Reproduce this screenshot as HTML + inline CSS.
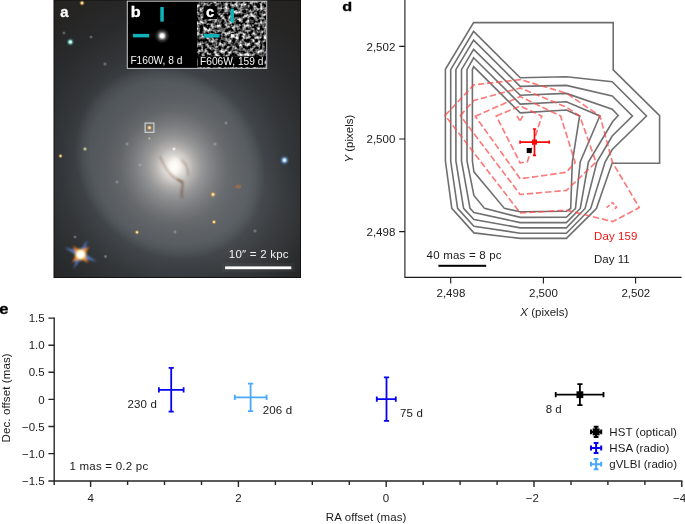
<!DOCTYPE html>
<html>
<head>
<meta charset="utf-8">
<title>Figure</title>
<style>
html,body{margin:0;padding:0;background:#fff;}
body{width:685px;height:524px;overflow:hidden;font-family:"Liberation Sans",sans-serif;}
svg{display:block;position:absolute;left:0;top:0;opacity:.999;}
text{font-family:"Liberation Sans",sans-serif;}
.t{font-size:11.5px;fill:#1a1a1a;}
.b{font-size:14px;font-weight:bold;fill:#000;stroke:#000;stroke-width:.3;}
.gc{fill:none;stroke:#6f6f6f;stroke-width:1.6;stroke-linejoin:miter;}
.rc{fill:none;stroke:#fa4b4b;stroke-opacity:.74;stroke-width:1.65;stroke-dasharray:6.4 2.8;stroke-linejoin:round;}
.ax{stroke:#1a1a1a;stroke-width:1.1;fill:none;}
.e{stroke:#262626;stroke-width:1.4;}
</style>
</head>
<body>
<svg width="685" height="524" viewBox="0 0 685 524">
<defs>
  <clipPath id="imgclip"><rect x="54" y="0" width="246.5" height="277.5"/></clipPath>
  <radialGradient id="gal" cx="0" cy="0" r="1" gradientUnits="userSpaceOnUse" gradientTransform="translate(174.2 166.7) rotate(-15) scale(196 204)">
    <stop offset="0" stop-color="#ffffff"/>
    <stop offset="0.025" stop-color="#f8f6f4"/>
    <stop offset="0.05" stop-color="#e0dcd8"/>
    <stop offset="0.1" stop-color="#b2b0ae"/>
    <stop offset="0.14" stop-color="#969697"/>
    <stop offset="0.18" stop-color="#838486"/>
    <stop offset="0.22" stop-color="#727476"/>
    <stop offset="0.275" stop-color="#5f6265"/>
    <stop offset="0.33" stop-color="#53565a"/>
    <stop offset="0.39" stop-color="#494e52"/>
    <stop offset="0.45" stop-color="#41464a"/>
    <stop offset="0.5" stop-color="#3c3f43"/>
    <stop offset="0.575" stop-color="#34373a"/>
    <stop offset="0.65" stop-color="#2f3133"/>
    <stop offset="0.75" stop-color="#292a2c"/>
    <stop offset="0.9" stop-color="#262524"/>
    <stop offset="1" stop-color="#242322"/>
  </radialGradient>
  <radialGradient id="disk" cx="0" cy="0" r="1" gradientUnits="userSpaceOnUse" gradientTransform="translate(170 163) rotate(48) scale(102 89)">
    <stop offset="0" stop-color="#ccd2d6" stop-opacity="0"/>
    <stop offset="0.4" stop-color="#ccd2d6" stop-opacity=".025"/>
    <stop offset="0.6" stop-color="#ccd2d6" stop-opacity=".06"/>
    <stop offset="0.75" stop-color="#ccd2d6" stop-opacity=".09"/>
    <stop offset="0.84" stop-color="#ccd2d6" stop-opacity=".105"/>
    <stop offset="0.92" stop-color="#ccd2d6" stop-opacity=".07"/>
    <stop offset="1" stop-color="#ccd2d6" stop-opacity="0"/>
  </radialGradient>
  <radialGradient id="lr" cx="250" cy="222" r="70" gradientUnits="userSpaceOnUse">
    <stop offset="0" stop-color="#c8ccd0" stop-opacity=".06"/>
    <stop offset="0.5" stop-color="#c8ccd0" stop-opacity=".04"/>
    <stop offset="1" stop-color="#c8ccd0" stop-opacity="0"/>
  </radialGradient>
  <radialGradient id="core" cx="0" cy="0" r="1" gradientUnits="userSpaceOnUse" gradientTransform="translate(174.2 166.7) rotate(55) scale(15 8)">
    <stop offset="0" stop-color="#fff" stop-opacity=".9"/>
    <stop offset="0.4" stop-color="#fffaf0" stop-opacity=".5"/>
    <stop offset="1" stop-color="#f0e8dc" stop-opacity="0"/>
  </radialGradient>
  <radialGradient id="sW"><stop offset="0" stop-color="#fff"/><stop offset=".35" stop-color="#fff" stop-opacity=".9"/><stop offset="1" stop-color="#fff" stop-opacity="0"/></radialGradient>
  <radialGradient id="sO"><stop offset="0" stop-color="#fff8e0"/><stop offset=".28" stop-color="#ffe2a0" stop-opacity=".95"/><stop offset=".6" stop-color="#e8a648" stop-opacity=".5"/><stop offset="1" stop-color="#c88428" stop-opacity="0"/></radialGradient>
  <radialGradient id="sB"><stop offset="0" stop-color="#fff"/><stop offset=".3" stop-color="#bfe4ff" stop-opacity=".95"/><stop offset=".6" stop-color="#5aa0e0" stop-opacity=".5"/><stop offset="1" stop-color="#3a70c0" stop-opacity="0"/></radialGradient>
  <radialGradient id="sC"><stop offset="0" stop-color="#fff"/><stop offset=".3" stop-color="#c8fff0" stop-opacity=".95"/><stop offset=".6" stop-color="#50c0b0" stop-opacity=".5"/><stop offset="1" stop-color="#308080" stop-opacity="0"/></radialGradient>
  <radialGradient id="sY"><stop offset="0" stop-color="#e8e4b0"/><stop offset=".4" stop-color="#d0c890" stop-opacity=".8"/><stop offset="1" stop-color="#b0a870" stop-opacity="0"/></radialGradient>
  <radialGradient id="sBig"><stop offset="0" stop-color="#fff"/><stop offset=".3" stop-color="#fff"/><stop offset=".5" stop-color="#fff3c0" stop-opacity=".85"/><stop offset=".75" stop-color="#e0c070" stop-opacity=".3"/><stop offset="1" stop-color="#c0a050" stop-opacity="0"/></radialGradient>
  <radialGradient id="sF"><stop offset="0" stop-color="#b8c2d0" stop-opacity=".6"/><stop offset="1" stop-color="#9aa6b8" stop-opacity="0"/></radialGradient>
  <radialGradient id="bstar"><stop offset="0" stop-color="#fff"/><stop offset=".2" stop-color="#e0e0e0"/><stop offset=".36" stop-color="#6a6a6a"/><stop offset=".6" stop-color="#303030"/><stop offset=".85" stop-color="#111"/><stop offset="1" stop-color="#000" stop-opacity="0"/></radialGradient>
  <filter id="noise" x="0" y="0" width="100%" height="100%" color-interpolation-filters="sRGB">
    <feTurbulence type="fractalNoise" baseFrequency="0.28" numOctaves="2" seed="5" result="n"/>
    <feColorMatrix type="matrix" values="2.3 0 0 0 -0.81  2.3 0 0 0 -0.81  2.3 0 0 0 -0.81  0 0 0 0 1"/>
    <feGaussianBlur stdDeviation="0.7"/>
  </filter>
  <filter id="blur1" x="-100%" y="-100%" width="300%" height="300%"><feGaussianBlur stdDeviation="0.7"/></filter>
  <filter id="blurS" x="-50%" y="-50%" width="200%" height="200%"><feGaussianBlur stdDeviation="1.25"/></filter>
  <filter id="blurD" x="-30%" y="-30%" width="160%" height="160%"><feGaussianBlur stdDeviation="0.95"/></filter>
  <filter id="blur2" x="-100%" y="-100%" width="300%" height="300%"><feGaussianBlur stdDeviation="1"/></filter>
</defs>

<!-- ============ panel a : galaxy image ============ -->
<g clip-path="url(#imgclip)">
  <rect x="54" y="0" width="247" height="278" fill="#222222"/>
  <rect x="54" y="0" width="247" height="278" fill="url(#gal)"/>
  <rect x="54" y="0" width="247" height="278" fill="url(#disk)"/>
  <rect x="54" y="0" width="247" height="278" fill="url(#lr)"/>
  <ellipse cx="174.2" cy="166.7" rx="15" ry="8" transform="rotate(55 174.2 166.7)" fill="url(#core)"/>
  <!-- dust lanes -->
  <g fill="none" stroke="#5e3420" stroke-opacity=".42" stroke-width="1.35" stroke-linecap="round" filter="url(#blurD)">
    <path d="M160 156.5 C162 161 164 166 168 171 C171 175 174 178 177.5 179.5 C180 180.5 182 181 183.5 181.8"/>
    <path d="M181.8 160 C185.5 163 188.2 168 188 175"/>
    <path d="M177.5 179.5 C180 180.5 183.5 182 182.6 186 C182 189 181.2 192 181.8 197.5" stroke-opacity=".7"/>
  </g>
  <!-- stars -->
  <circle cx="82" cy="3" r="3" fill="url(#sO)"/>
  <circle cx="70.3" cy="42" r="4.2" fill="url(#sC)"/>
  <circle cx="284.5" cy="160.2" r="5" fill="url(#sB)"/>
  <circle cx="213" cy="194.5" r="3.2" fill="url(#sO)"/>
  <circle cx="214" cy="222" r="2.6" fill="url(#sO)"/>
  <circle cx="137" cy="232.3" r="2.6" fill="url(#sO)"/>
  <circle cx="60.5" cy="156" r="2.4" fill="url(#sO)"/>
  <circle cx="85" cy="149" r="2.4" fill="url(#sY)"/>
  <circle cx="174" cy="149" r="2.2" fill="url(#sW)" opacity=".75"/>
  <circle cx="149.4" cy="138.5" r="1.8" fill="url(#sY)" opacity=".7"/>
  <circle cx="117" cy="182" r="2.3" fill="url(#sF)"/>
  <circle cx="140" cy="165" r="2.3" fill="url(#sF)"/>
  <circle cx="215" cy="144" r="2.5" fill="url(#sF)"/>
  <circle cx="127" cy="144" r="2.3" fill="url(#sF)"/>
  <ellipse cx="238.3" cy="186.6" rx="3" ry="2" fill="#c87830" fill-opacity=".45" filter="url(#blur1)"/>
  <circle cx="255" cy="231" r="2.3" fill="url(#sF)"/>
  <circle cx="105" cy="64" r="2.3" fill="url(#sF)"/>
  <circle cx="91" cy="37" r="2.1" fill="url(#sF)"/>
  <circle cx="64" cy="33" r="2.1" fill="url(#sF)"/>
  <circle cx="226" cy="123" r="2.3" fill="url(#sF)"/>
  <circle cx="175" cy="232" r="2.3" fill="url(#sF)"/>
  <circle cx="105.5" cy="256.5" r="2.3" fill="url(#sF)"/>
  <circle cx="75" cy="237" r="2.1" fill="url(#sF)"/>
  <!-- bright star bottom-left with spikes -->
  <g filter="url(#blurS)">
    <polygon points="97.0,261.8 79.5,256.9 64.2,247.2 81.7,252.1" fill="#5f8fe6" fill-opacity=".85"/>
    <polygon points="87.6,240.1 82.9,255.6 73.6,268.9 78.3,253.4" fill="#5f8fe6" fill-opacity=".85"/>
    <polygon points="88.3,263.0 78.1,256.8 72.9,246.0 83.1,252.2" fill="#ff8a1a"/>
    <polygon points="89.1,246.8 82.9,257.0 72.1,262.2 78.3,252.0" fill="#ff8a1a"/>
  </g>
  <circle cx="80.6" cy="254.5" r="8" fill="url(#sBig)"/>
  <!-- little box around SN -->
  <circle cx="149.4" cy="127.7" r="3" fill="url(#sO)"/>
  <rect x="145.1" y="123.1" width="8.8" height="9.2" fill="none" stroke="#d8d8d8" stroke-width="1.1"/>
  <!-- scale bar -->
  <rect x="222" y="263.2" width="73" height="8.6" fill="#fff" fill-opacity=".04"/>
  <rect x="225.1" y="266.4" width="66.2" height="2.8" fill="#fff"/>
</g>
<rect x="54" y="0" width="246.5" height="277.5" fill="none" stroke="#111" stroke-width="1"/>

<!-- insets b and c -->
<g>
  <rect x="127.3" y="1.2" width="139.4" height="67.2" fill="#000"/>
  <!-- b -->
  <circle cx="162" cy="35.8" r="8" fill="url(#bstar)"/>
  <rect x="159.7" y="33.4" width="5" height="5" fill="#fff" filter="url(#blur2)"/>
  <rect x="160.3" y="7" width="3.5" height="14.6" fill="#10b2bc"/>
  <rect x="132.9" y="33.9" width="16.3" height="3.5" fill="#10b2bc"/>
  <!-- c -->
  <rect x="197.6" y="1.6" width="68.4" height="66" fill="#777" filter="url(#noise)"/>
  <rect x="203.7" y="6.1" width="13.7" height="13" fill="#000"/>
  <rect x="230.5" y="8.6" width="3.4" height="14" fill="#10b2bc"/>
  <rect x="203.6" y="34" width="16" height="3.5" fill="#10b2bc"/>
  <rect x="231" y="34.2" width="3.6" height="3.4" fill="#f4f4f4" filter="url(#blur1)"/>
  <rect x="197.6" y="56.4" width="67" height="10.6" fill="#000"/>
  <rect x="127.3" y="1.2" width="139.4" height="67.2" fill="none" stroke="#c8c8c8" stroke-width="1"/>
</g>

<!-- ============ panel d : contours ============ -->
<text class="b" transform="translate(342.2 10.7) scale(1.16 .94)">d</text>
<path class="ax" d="M404.9 0 V277.4 H681.6"/>
<path class="ax" d="M399.2 46.4 H404.9 M399.2 139 H404.9 M399.2 231.6 H404.9 M450.7 277.4 V283.4 M543.4 277.4 V283.4 M635.6 277.4 V283.4"/>
<text class="t" x="395.3" y="50.7" text-anchor="end">2,502</text>
<text class="t" x="395.3" y="143.3" text-anchor="end">2,500</text>
<text class="t" x="395.3" y="235.9" text-anchor="end">2,498</text>
<text class="t" x="450.9" y="296.7" text-anchor="middle">2,498</text>
<text class="t" x="543.4" y="296.7" text-anchor="middle">2,500</text>
<text class="t" x="635.8" y="296.7" text-anchor="middle">2,502</text>
<text class="t" x="520.3" y="316.4"><tspan font-style="italic">X</tspan> (pixels)</text>
<text class="t" transform="translate(353.3 162.6) rotate(-90)"><tspan font-style="italic">Y</tspan> (pixels)</text>

<!-- grey contours (day 11) -->
<g class="gc">
  <path d="M473.6 22.6 L613.2 22.6 L613.2 69.9 L659.6 115.7 L659.6 163.3 L612.1 163.3 L596.4 208.45 L566.4 238.4 L520.2 238.4 L473.9 232.9 L451.8 208.4 L445.4 161 L445.4 69.3 Z"/>
  <path d="M473.6 31.4 L520.2 77.8 L566.4 76.7 L612.2 81.7 L646.5 116 L612.2 149.5 L605.1 162 L590.7 208.45 L566.4 233.2 L520.2 233.2 L473.9 226.2 L457.6 208.4 L450.7 161 L450.7 69.6 Z"/>
  <path d="M473.6 40.1 L520.2 86.4 L566.4 85.4 L612.2 95.9 L632.4 116 L612.2 136 L596.9 162 L585.1 208.45 L566.4 227.9 L520.2 227.9 L473.9 219.5 L463.6 208.4 L455.9 161 L455.9 69.6 Z"/>
  <path d="M473.6 49.4 L520.2 95.2 L566.4 93.4 L612.2 109.3 L618.2 115.5 L612.7 121.5 L588.4 162 L580.3 208.45 L566.4 222.6 L520.2 222.6 L473.9 212.6 L470 208.4 L461.5 161 L461.5 69.6 Z"/>
  <path d="M473.6 57.8 L520.2 104.1 L566.4 101.7 L599.8 116 L580.2 162 L575.5 208.45 L566.4 217.3 L520.2 217.4 L484.5 208.4 L473.9 195.4 L467 161 L467 69.6 Z"/>
  <path d="M473.6 66.6 L520.2 112.9 L566.4 110 L579.6 116 L572.3 162 L570.7 208.45 L566.4 211.3 L520.2 211.8 L504.4 208.4 L473.9 171.8 L472.4 161 L472.4 69.6 Z"/>
</g>
<!-- red dashed contours (day 159) -->
<g class="rc">
  <path d="M445.1 115.4 L473.8 84.9 L520.3 79.6 L566.4 93.2 L600 116 L612.5 162.5 L639.3 207.6 L612.8 221.6 L566.4 210.2 L520.2 212.9 Z"/>
  <path d="M460.3 115.6 L473.8 100.5 L520.3 88 L566.4 107.2 L579.8 116 L596 162.2 L566.4 190.4 L520.2 194.5 Z"/>
  <path d="M475.3 116.2 L520.2 96.6 L560.6 116 L575.2 162.5 L566.2 172.3 L520.2 178.8 Z"/>
  <path d="M496.2 116 L520.2 106.1 L541.8 116 L527.5 161.6 L520.2 163 Z"/>
  <path d="M517 115.8 L519.9 121.2 L522.8 115.8" stroke-dasharray="5.5 1.2"/>
  <path d="M606.6 207.6 L612.6 202.6 L616.6 207.4 L612.6 210.2" stroke-dasharray="4 2.2"/>
</g>
<!-- markers -->
<rect x="526.7" y="148" width="5" height="5" fill="#000"/>
<g stroke="#fb0505" stroke-width="1.7" fill="none">
  <path d="M520.1 142.1 H549.2 M534.5 129 V155.3 M520.1 140.5 V143.7 M549.2 140.5 V143.7 M532.9 129 H536.1 M532.9 155.3 H536.1"/>
</g>
<rect x="532" y="139.6" width="5" height="5" fill="#fb0505"/>
<!-- scale bar + labels -->
<rect x="438.4" y="264.8" width="47.8" height="2" fill="#000"/>
<text class="t" x="426.6" y="258.6" textLength="75" lengthAdjust="spacing">40 mas = 8 pc</text>
<text class="t" x="594" y="240.2" style="fill:#f01414" textLength="43.4" lengthAdjust="spacing">Day 159</text>
<text class="t" x="594" y="263.3">Day 11</text>

<!-- ============ panel e ============ -->
<text class="b" transform="translate(-0.8 313.8) scale(1.18 1)">e</text>
<path class="ax e" d="M54.2 317.5 V481 H682.4"/>
<path class="ax e" d="M48.4 318.1 H54.2 M48.4 345.2 H54.2 M48.4 372.3 H54.2 M48.4 399.4 H54.2 M48.4 426.5 H54.2 M48.4 453.6 H54.2 M48.4 481 H54.2"/>
<path class="ax e" d="M90.6 481 V487 M238.4 481 V487 M386.2 481 V487 M534 481 V487 M681.8 481 V487"/>
<path class="ax e" d="M54.2 481 V485 M127.6 481 V485 M164.5 481 V485 M201.5 481 V485 M275.4 481 V485 M312.3 481 V485 M349.3 481 V485 M423.2 481 V485 M460.1 481 V485 M497.1 481 V485 M571 481 V485 M607.9 481 V485 M644.9 481 V485"/>
<g class="t" text-anchor="end">
  <text x="44.7" y="322.2">1.5</text>
  <text x="44.7" y="349.3">1.0</text>
  <text x="44.7" y="376.4">0.5</text>
  <text x="44.7" y="403.5">0</text>
  <text x="44.7" y="430.6">−0.5</text>
  <text x="44.7" y="457.7">−1.0</text>
  <text x="44.7" y="484.8">−1.5</text>
</g>
<g class="t" text-anchor="middle">
  <text x="90.6" y="501.8">4</text>
  <text x="238.4" y="501.8">2</text>
  <text x="385.9" y="501.8">0</text>
  <text x="532.4" y="501.8">−2</text>
  <text x="679.6" y="501.8">−4</text>
</g>
<text class="t" x="325.8" y="520.9" textLength="80.6" lengthAdjust="spacing">RA offset (mas)</text>
<text class="t" transform="translate(9.6 442.4) rotate(-90)" textLength="89" lengthAdjust="spacing">Dec. offset (mas)</text>
<text class="t" x="69.5" y="469.5" textLength="78.7" lengthAdjust="spacing">1 mas = 0.2 pc</text>

<!-- data points -->
<g stroke="#0505f0" stroke-width="1.8" fill="none">
  <path d="M171.2 367.9 V411.7 M158.9 389.9 H183.6 M168.6 367.9 H173.8 M168.6 411.7 H173.8 M158.9 387.3 V392.5 M183.6 387.3 V392.5"/>
  <path d="M386.5 377.3 V420.9 M376.8 399.1 H395.8 M383.9 377.3 H389.1 M383.9 420.9 H389.1 M376.8 396.5 V401.7 M395.8 396.5 V401.7"/>
</g>
<g stroke="#4aa8ff" stroke-width="1.8" fill="none">
  <path d="M250.6 383.6 V411.2 M234.8 397.3 H266.6 M248 383.6 H253.2 M248 411.2 H253.2 M234.8 394.7 V399.9 M266.6 394.7 V399.9"/>
</g>
<g stroke="#000" stroke-width="1.8" fill="none">
  <path d="M579.9 384.2 V405.2 M555.7 394.7 H603.5 M577.3 384.2 H582.5 M577.3 405.2 H582.5 M555.7 392.1 V397.3 M603.5 392.1 V397.3"/>
</g>
<rect x="576.5" y="391.3" width="6.8" height="6.8" fill="#000"/>
<text class="t" x="127.4" y="407.8" textLength="29.5" lengthAdjust="spacing">230 d</text>
<text class="t" x="262.7" y="414.4" textLength="29.4" lengthAdjust="spacing">206 d</text>
<text class="t" x="399.9" y="417" textLength="22.9" lengthAdjust="spacing">75 d</text>
<text class="t" x="545.7" y="413" textLength="15.9" lengthAdjust="spacing">8 d</text>

<!-- legend -->
<g stroke-width="2" fill="none">
  <path stroke="#000" d="M596.1 426.79999999999995 V437.0 M591.0 431.9 H601.2 M593.7 426.79999999999995 H598.5 M593.7 437.0 H598.5 M591.0 429.5 V434.29999999999995 M601.2 429.5 V434.29999999999995"/>
  <path stroke="#0505f0" d="M596.1 442.9 V453.1 M591.0 448 H601.2 M593.7 442.9 H598.5 M593.7 453.1 H598.5 M591.0 445.6 V450.4 M601.2 445.6 V450.4"/>
  <path stroke="#4aa8ff" d="M596.1 459.09999999999997 V469.3 M591.0 464.2 H601.2 M593.7 459.09999999999997 H598.5 M593.7 469.3 H598.5 M591.0 461.8 V466.59999999999997 M601.2 461.8 V466.59999999999997"/>
</g>
<rect x="592.6" y="428.4" width="7" height="7" fill="#000"/>
<text class="t" x="609.3" y="435.8" textLength="67.6" lengthAdjust="spacing">HST (optical)</text>
<text class="t" x="609.3" y="451.7" textLength="60" lengthAdjust="spacing">HSA (radio)</text>
<text class="t" x="609.3" y="467.9" textLength="67.7" lengthAdjust="spacing">gVLBI (radio)</text>
</svg>
<svg width="685" height="524" viewBox="0 0 685 524" style="opacity:.999">
<text x="228.8" y="257.7" font-size="11.5" fill="#f2f2f2" textLength="59.8" lengthAdjust="spacing">10″ = 2 kpc</text>
<text class="b" transform="translate(60.3 17) scale(1.06 1)" style="fill:#fff;stroke:#fff">a</text>
<text class="b" transform="translate(130.8 16.9) scale(1.16 .98)" style="fill:#fff;stroke:#fff">b</text>
<text x="130.4" y="64.2" font-size="10.2" fill="#f4f4f4" textLength="52" lengthAdjust="spacing">F160W, 8 d</text>
<text class="b" transform="translate(206 16.9) scale(1.04 1)" style="fill:#fff;stroke:#fff">c</text>
<text x="200" y="64.5" font-size="10.2" fill="#f4f4f4" textLength="63.4" lengthAdjust="spacing">F606W, 159 d</text>
</svg>
</body>
</html>
